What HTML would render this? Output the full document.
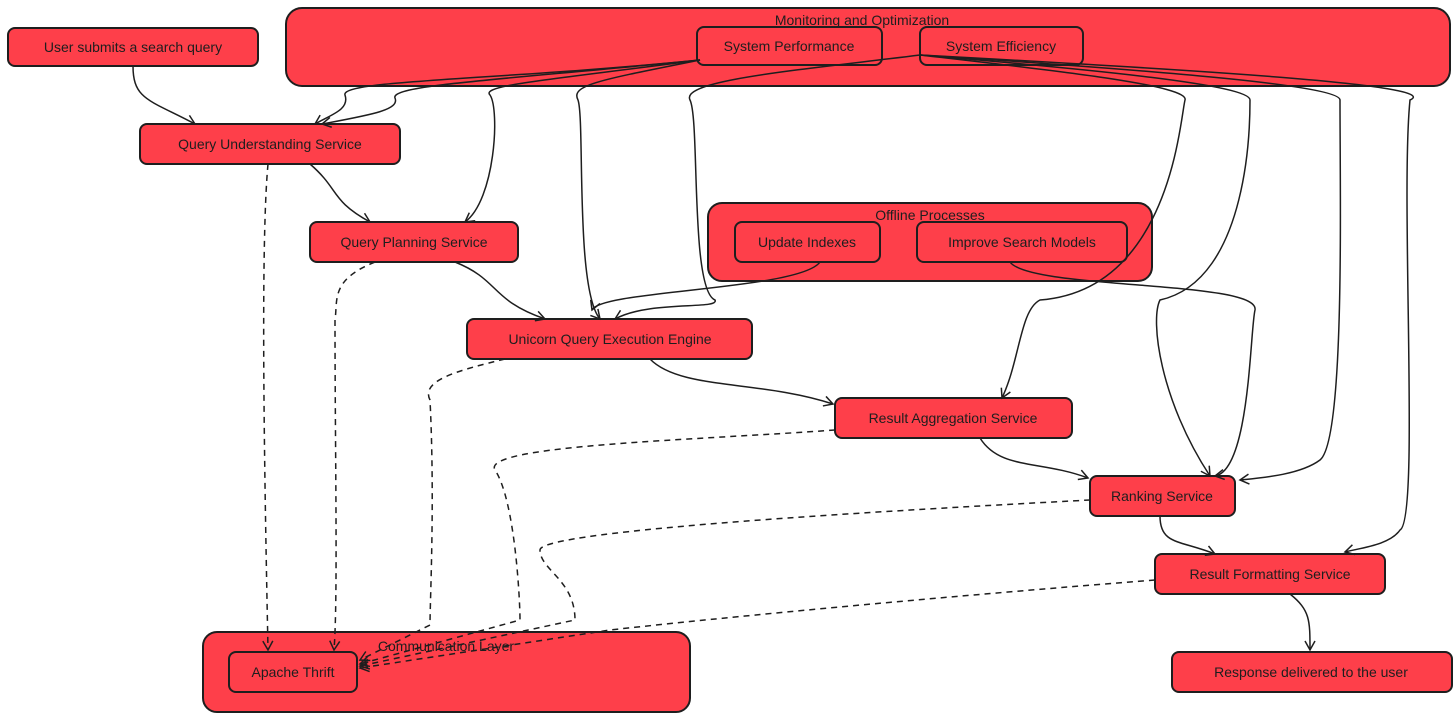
<!DOCTYPE html>
<html><head><meta charset="utf-8"><style>
html,body{margin:0;padding:0;background:#fff;width:1456px;height:719px;overflow:hidden}
svg text{font-family:"Liberation Sans",sans-serif;font-size:14px;fill:#1e1e1e}
</style></head><body>
<svg width="1456" height="719" viewBox="0 0 1456 719" xmlns="http://www.w3.org/2000/svg">
<defs><marker id="a" markerWidth="12" markerHeight="12" refX="10" refY="6" orient="auto" markerUnits="userSpaceOnUse"><path d="M1,1 L10,6 L1,11" fill="none" stroke="#1e1e1e" stroke-width="1.5"/></marker></defs>
<g fill="#fe3f4a" stroke="#1e1e1e" stroke-width="2">
<rect x="286" y="8" width="1164" height="78" rx="16"/>
<rect x="8" y="28" width="250" height="38" rx="7"/>
<rect x="697" y="27" width="185" height="38" rx="7"/>
<rect x="920" y="27" width="163" height="38" rx="7"/>
<rect x="140" y="124" width="260" height="40" rx="7"/>
<rect x="310" y="222" width="208" height="40" rx="7"/>
<rect x="708" y="203" width="444" height="78" rx="14"/>
<rect x="735" y="222" width="145" height="40" rx="7"/>
<rect x="917" y="222" width="210" height="40" rx="7"/>
<rect x="467" y="319" width="285" height="40" rx="7"/>
<rect x="835" y="398" width="237" height="40" rx="7"/>
<rect x="1090" y="476" width="145" height="40" rx="7"/>
<rect x="1155" y="554" width="230" height="40" rx="7"/>
<rect x="1172" y="652" width="280" height="40" rx="7"/>
<rect x="203" y="632" width="487" height="80" rx="14"/>
<rect x="229" y="652" width="128" height="40" rx="7"/>
</g>
<g fill="none" stroke="#1e1e1e" stroke-width="1.5" marker-end="url(#a)">
<path d="M133,66 C133,100 150,100 195,124"/>
<path d="M310,164 C340,190 330,200 370,222"/>
<path d="M455,262 C500,280 490,300 545,319"/>
<path d="M650,359 C680,390 760,380 833,404"/>
<path d="M980,438 C1000,470 1040,460 1088,478"/>
<path d="M1160,516 C1160,545 1180,540 1215,554"/>
<path d="M1290,594 C1310,610 1310,620 1310,650"/>
<path d="M700,60 C500,80 340,80 345,95 C350,110 330,115 315,124"/>
<path d="M700,60 C500,80 390,85 395,98 C400,110 370,115 322,124"/>
<path d="M700,60 C550,80 480,85 490,95 C500,110 495,200 465,222"/>
<path d="M700,60 C600,80 570,85 578,100 C585,120 575,290 600,319"/>
<path d="M920,55 C800,70 680,80 690,100 C700,120 690,290 715,300 C720,310 650,300 615,319"/>
<path d="M920,55 C1050,70 1190,85 1185,100 C1180,120 1170,290 1040,300 C1020,310 1020,360 1002,398"/>
<path d="M920,55 C1100,70 1250,85 1250,100 C1250,120 1250,280 1160,300 C1150,320 1160,400 1210,476"/>
<path d="M920,55 C1150,70 1340,85 1340,100 C1340,200 1345,440 1320,460 C1300,475 1260,478 1240,480"/>
<path d="M920,55 C1200,70 1445,85 1410,100 C1400,200 1420,520 1400,530 C1390,545 1360,548 1345,552"/>
<path d="M1010,262 C1030,290 1260,280 1255,310 C1250,330 1250,470 1215,476"/>
<path d="M820,262 C800,290 600,290 592,310"/>
</g>
<g fill="none" stroke="#1e1e1e" stroke-width="1.5" stroke-dasharray="6,5" marker-end="url(#a)">
<path d="M268,164 C260,250 265,500 268,650"/>
<path d="M375,262 C330,280 338,300 335,320 C335,450 338,600 334,650"/>
<path d="M505,359 C460,370 420,380 430,400 C435,500 430,600 430,625 L360,660"/>
<path d="M835,430 C700,440 480,445 495,470 C515,500 520,600 520,620 L360,664"/>
<path d="M1090,500 C900,510 540,530 540,550 C540,570 575,580 575,620 L360,666"/>
<path d="M1155,580 C900,600 700,620 610,630 L360,668"/>
</g>
<text x="133" y="52" text-anchor="middle">User submits a search query</text>
<text x="862" y="25" text-anchor="middle">Monitoring and Optimization</text>
<text x="789" y="51" text-anchor="middle">System Performance</text>
<text x="1001" y="51" text-anchor="middle">System Efficiency</text>
<text x="270" y="149" text-anchor="middle">Query Understanding Service</text>
<text x="414" y="247" text-anchor="middle">Query Planning Service</text>
<text x="930" y="220" text-anchor="middle">Offline Processes</text>
<text x="807" y="247" text-anchor="middle">Update Indexes</text>
<text x="1022" y="247" text-anchor="middle">Improve Search Models</text>
<text x="610" y="344" text-anchor="middle">Unicorn Query Execution Engine</text>
<text x="953" y="423" text-anchor="middle">Result Aggregation Service</text>
<text x="1162" y="501" text-anchor="middle">Ranking Service</text>
<text x="1270" y="579" text-anchor="middle">Result Formatting Service</text>
<text x="1311" y="677" text-anchor="middle">Response delivered to the user</text>
<text x="446" y="651" text-anchor="middle">Communication Layer</text>
<text x="293" y="677" text-anchor="middle">Apache Thrift</text>
</svg>
</body></html>
